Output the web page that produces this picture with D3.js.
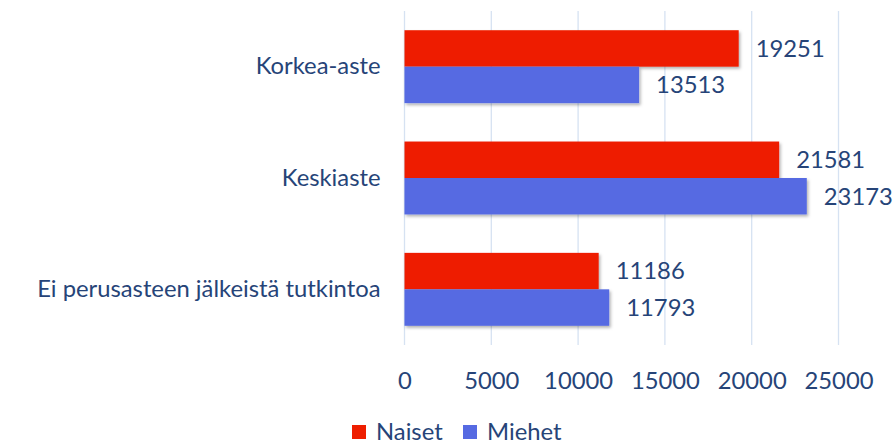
<!DOCTYPE html>
<html>
<head>
<meta charset="utf-8">
<script src="https://cdn.jsdelivr.net/npm/d3@7"></script>
<style>
  body { margin: 0; background: #fff; }
  text { font-family: Lato, "Open Sans", sans-serif; fill: #264478; }
</style>
</head>
<body>
<script>
const categories = ['Korkea-aste', 'Keskiaste', 'Ei perusasteen jälkeistä tutkintoa']
const series = ['Naiset', 'Miehet']
const naiset = [19251, 21581, 11186]
const miehet = [13513, 23173, 11793]
const xTicks = [0, 5000, 10000, 15000, 20000, 25000]
const colors = ['#ee1e00', '#566ae2']

const width = 893
const height = 446
const plotLeft = 404.5, plotRight = 838.5, plotTop = 11, plotBottom = 345
const fontSize = 23.8

const svg = d3.select('body').append('svg')
    .attr('width', width).attr('height', height)
    .attr('xmlns', 'http://www.w3.org/2000/svg')

const defs = svg.append('defs')
const f = defs.append('filter').attr('id', 'shadow')
    .attr('x', '-5%').attr('y', '-20%').attr('width', '115%').attr('height', '160%')
f.append('feDropShadow')
    .attr('dx', 1.5).attr('dy', 2).attr('stdDeviation', 1.5)
    .attr('flood-color', '#000').attr('flood-opacity', 0.3)

const xScale = d3.scaleLinear().domain([0, 25000]).range([plotLeft, plotRight])
const yScale = d3.scaleBand().domain(categories).range([plotTop, plotBottom])
    .paddingInner(0.345).paddingOuter(0.1725)
const sub = d3.scaleBand().domain(series).range([0, yScale.bandwidth()])

// grid
svg.append('g')
    .selectAll('line')
    .data(xTicks)
    .enter()
    .append('line')
    .attr('x1', d => xScale(d)).attr('x2', d => xScale(d))
    .attr('y1', plotTop).attr('y2', plotBottom)
    .attr('stroke', '#d6e2f2').attr('stroke-width', 1.3)

// x axis labels
const xAxis = svg.append('g')
    .attr('transform', `translate(0, ${plotBottom + 36})`)
    .call(d3.axisBottom(xScale).tickValues(xTicks).tickSize(0).tickFormat(d3.format('d')))
xAxis.select('.domain').remove()
xAxis.selectAll('text')
    .attr('font-size', fontSize).attr('fill', '#264478')
    .attr('dy', '0.32em').attr('y', 0)
xAxis.attr('font-family', null).attr('font-size', null)

// y axis labels
const yAxis = svg.append('g')
    .attr('transform', `translate(${plotLeft - 24}, 0)`)
    .call(d3.axisLeft(yScale).tickSize(0).tickPadding(0))
yAxis.select('.domain').remove()
yAxis.selectAll('text')
    .attr('font-size', fontSize).attr('fill', '#264478')
yAxis.attr('font-family', null).attr('font-size', null)

const rows = []
categories.forEach((c, i) => {
    rows.push({ cat: c, s: 'Naiset', v: naiset[i], color: colors[0] })
    rows.push({ cat: c, s: 'Miehet', v: miehet[i], color: colors[1] })
})

svg.append('g')
    .selectAll('rect')
    .data(rows)
    .enter()
    .append('rect')
    .attr('x', xScale(0))
    .attr('y', d => yScale(d.cat) + sub(d.s))
    .attr('width', d => xScale(d.v) - xScale(0))
    .attr('height', sub.bandwidth())
    .attr('fill', d => d.color)
    .attr('filter', 'url(#shadow)')

svg.append('g')
    .selectAll('text')
    .data(rows)
    .enter()
    .append('text')
    .attr('x', d => xScale(d.v) + 17)
    .attr('y', d => yScale(d.cat) + sub(d.s) + sub.bandwidth() / 2)
    .attr('dy', '0.35em')
    .attr('font-size', fontSize)
    .text(d => d.v)

// legend
const legend = svg.append('g').attr('transform', 'translate(352, 425)')
const items = legend.selectAll('g')
    .data(series)
    .enter()
    .append('g')
    .attr('transform', (d, i) => `translate(${i * 111}, 0)`)
items.append('rect')
    .attr('width', 14).attr('height', 14)
    .attr('fill', (d, i) => colors[i])
items.append('text')
    .attr('x', 24).attr('y', 15)
    .attr('font-size', fontSize)
    .text(d => d)
</script>
</body>
</html>
